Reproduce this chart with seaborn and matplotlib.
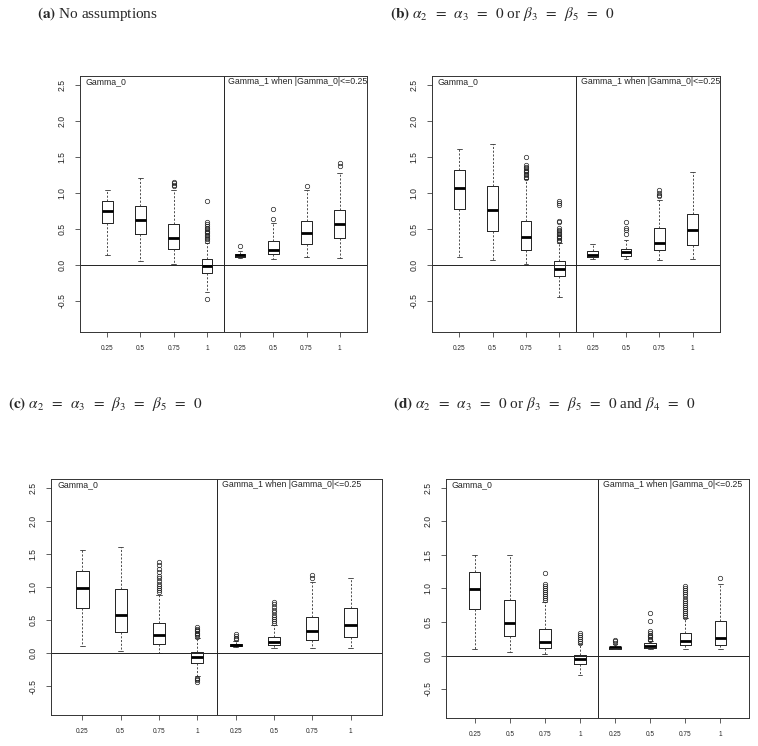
import numpy as np
import matplotlib
matplotlib.use("Agg")
import matplotlib.pyplot as plt
import seaborn as sns

# x labels (the shrinkage levels), repeated for Gamma_0 and Gamma_1
levels = ['0.25', '0.5', '0.75', '1', '0.25', '0.5', '0.75', '1']

# (a) No assumptions
a_low = [0.14, 0.06, 0.01, -0.37, 0.10, 0.08, 0.11, 0.10]
a_q1 = [0.58, 0.43, 0.22, -0.11, 0.11, 0.15, 0.29, 0.37]
a_med = [0.75, 0.63, 0.37, -0.01, 0.14, 0.21, 0.45, 0.57]
a_q3 = [0.89, 0.82, 0.57, 0.08, 0.16, 0.33, 0.61, 0.77]
a_high = [1.04, 1.21, 1.05, 0.31, 0.20, 0.58, 1.05, 1.28]
a_out = [[], [], [1.10, 1.12, 1.14, 1.16],
         [0.89, 0.60, 0.57, 0.55, 0.52, 0.50, 0.48, 0.46, 0.44, 0.42, 0.40, 0.38, 0.36, 0.34, -0.47],
         [0.27], [0.78, 0.64], [1.10], [1.42, 1.38]]

# (b) alpha2 = alpha3 = 0 or beta3 = beta5 = 0
b_low = [0.11, 0.065, 0.02, -0.45, 0.08, 0.08, 0.075, 0.09]
b_q1 = [0.78, 0.47, 0.21, -0.15, 0.11, 0.12, 0.21, 0.28]
b_med = [1.07, 0.76, 0.39, -0.06, 0.14, 0.18, 0.31, 0.49]
b_q3 = [1.32, 1.10, 0.62, 0.05, 0.20, 0.23, 0.51, 0.71]
b_high = [1.61, 1.68, 1.20, 0.31, 0.29, 0.35, 0.91, 1.29]
b_out = [[], [], [1.51, 1.39, 1.37, 1.35, 1.33, 1.31, 1.29, 1.27, 1.25, 1.23, 1.21],
         [0.89, 0.86, 0.83, 0.62, 0.60, 0.51, 0.49, 0.47, 0.45, 0.43, 0.41, 0.39, 0.37, 0.35, 0.33],
         [], [0.60, 0.52, 0.49, 0.43], [1.04, 1.01, 0.98, 0.96], []]

# (c) alpha2 = alpha3 = beta3 = beta5 = 0
c_low = [0.11, 0.04, 0.01, -0.35, 0.10, 0.085, 0.085, 0.085]
c_q1 = [0.68, 0.32, 0.14, -0.14, 0.11, 0.12, 0.20, 0.24]
c_med = [0.99, 0.58, 0.27, -0.06, 0.13, 0.17, 0.33, 0.42]
c_q3 = [1.25, 0.97, 0.45, 0.015, 0.14, 0.25, 0.55, 0.68]
c_high = [1.56, 1.61, 0.88, 0.23, 0.18, 0.43, 1.08, 1.13]
c_out = [[], [], [1.38, 1.33, 1.28, 1.22, 1.17, 1.13, 1.09, 1.05, 1.01, 0.98, 0.95, 0.92],
         [0.40, 0.37, 0.35, 0.33, 0.31, 0.29, 0.27, 0.25, -0.37, -0.39, -0.41, -0.43],
         [0.29, 0.26, 0.23, 0.21], [0.78, 0.74, 0.70, 0.66, 0.62, 0.58, 0.55, 0.52, 0.49, 0.46],
         [1.18, 1.13], []]

# (d) alpha2 = alpha3 = 0 or beta3 = beta5 = 0 and beta4 = 0
d_low = [0.09, 0.045, 0.015, -0.29, 0.09, 0.09, 0.09, 0.09]
d_q1 = [0.70, 0.29, 0.11, -0.13, 0.10, 0.11, 0.15, 0.16]
d_med = [0.99, 0.48, 0.20, -0.055, 0.12, 0.145, 0.21, 0.26]
d_q3 = [1.25, 0.83, 0.40, 0.005, 0.13, 0.18, 0.33, 0.52]
d_high = [1.50, 1.50, 0.80, 0.17, 0.17, 0.22, 0.56, 1.06]
d_out = [[], [], [1.23, 1.07, 1.04, 1.01, 0.98, 0.95, 0.92, 0.89, 0.86, 0.83],
         [0.34, 0.31, 0.28, 0.25, 0.22, 0.19],
         [0.23, 0.21, 0.19], [0.63, 0.51, 0.37, 0.34, 0.31, 0.29, 0.27, 0.25, 0.23],
         [1.03, 1.00, 0.97, 0.94, 0.91, 0.88, 0.85, 0.82, 0.79, 0.76, 0.73, 0.70, 0.67, 0.64, 0.61, 0.58],
         [1.16]]

# wider "=" like the LaTeX captions
eq = r'\ \:=\ \:'
titles = [r'$\mathbf{(a)}$ No assumptions',
          r'$\mathbf{(b)}$ $\alpha_2' + eq + r'\alpha_3' + eq + r'0$ or $\beta_3' + eq + r'\beta_5' + eq + r'0$',
          r'$\mathbf{(c)}$ $\alpha_2' + eq + r'\alpha_3' + eq + r'\beta_3' + eq + r'\beta_5' + eq + r'0$',
          r'$\mathbf{(d)}$ $\alpha_2' + eq + r'\alpha_3' + eq + r'0$ or $\beta_3' + eq + r'\beta_5' + eq
          + r'0$ and $\beta_4' + eq + r'0$']

panels = [(a_low, a_q1, a_med, a_q3, a_high, a_out),
          (b_low, b_q1, b_med, b_q3, b_high, b_out),
          (c_low, c_q1, c_med, c_q3, c_high, c_out),
          (d_low, d_q1, d_med, d_q3, d_high, d_out)]

sns.set_style('ticks')
plt.rcParams['font.family'] = ['Liberation Sans', 'DejaVu Sans']
plt.rcParams['mathtext.fontset'] = 'stix'

W, H = 758, 746
fig = plt.figure(figsize=(W / 100, H / 100), dpi=100)

# axes boxes in pixels: left, top, right, bottom
boxes_px = [(80, 76, 367, 332), (432, 76, 720, 332), (51, 479, 382, 715), (446, 479, 749, 718)]
title_px = [(37, 14), (390, 14), (8, 404), (393, 404)]

for i, (low, q1, med, q3, high, out) in enumerate(panels):
    l, t, r, b = boxes_px[i]
    ax = fig.add_axes([l / W, 1 - b / H, (r - l) / W, (b - t) / H])

    stats = []
    for j in range(len(levels)):
        stats.append({'whislo': low[j], 'q1': q1[j], 'med': med[j], 'q3': q3[j],
                      'whishi': high[j], 'fliers': np.array(out[j]), 'label': levels[j]})

    ax.bxp(stats, positions=np.arange(1, 9), widths=0.32, capwidths=0.14,
           boxprops=dict(color='#222222', lw=0.7),
           medianprops=dict(color='black', lw=2.0),
           whiskerprops=dict(color='#333333', lw=0.6, linestyle=(0, (2.5, 2))),
           capprops=dict(color='#333333', lw=0.6),
           flierprops=dict(marker='o', mfc='none', mec='#222222', ms=3.2, mew=0.5))

    ax.axhline(0, color='#222222', lw=0.7)
    ax.axvline(4.5, color='#222222', lw=0.7)

    ax.set_xlim(0.18, 8.82)
    ax.set_ylim(-0.932, 2.632)
    ax.set_xticks(np.arange(1, 9))
    ax.set_xticklabels(levels, fontsize=4.7)
    ax.set_yticks([-0.5, 0.0, 0.5, 1.0, 1.5, 2.0, 2.5])
    ax.set_yticklabels(['-0.5', '0.0', '0.5', '1.0', '1.5', '2.0', '2.5'],
                       fontsize=6.2, rotation=90, va='center')
    ax.tick_params(axis='both', direction='out', length=3.5, width=0.6, color='#444444', pad=6)
    for sp in ax.spines.values():
        sp.set_visible(True)
        sp.set_color('#333333')
        sp.set_linewidth(0.7)

    ax.text(0.35, 2.55, 'Gamma_0', fontsize=6.3, va='center', ha='left')
    ax.text(4.65, 2.55, 'Gamma_1 when |Gamma_0|<=0.25', fontsize=6.3, va='center', ha='left')

    fig.text(title_px[i][0] / W, 1 - title_px[i][1] / H, titles[i],
             fontsize=11, va='center', ha='left', family='Liberation Serif')

fig.savefig('out.png', dpi=100)
